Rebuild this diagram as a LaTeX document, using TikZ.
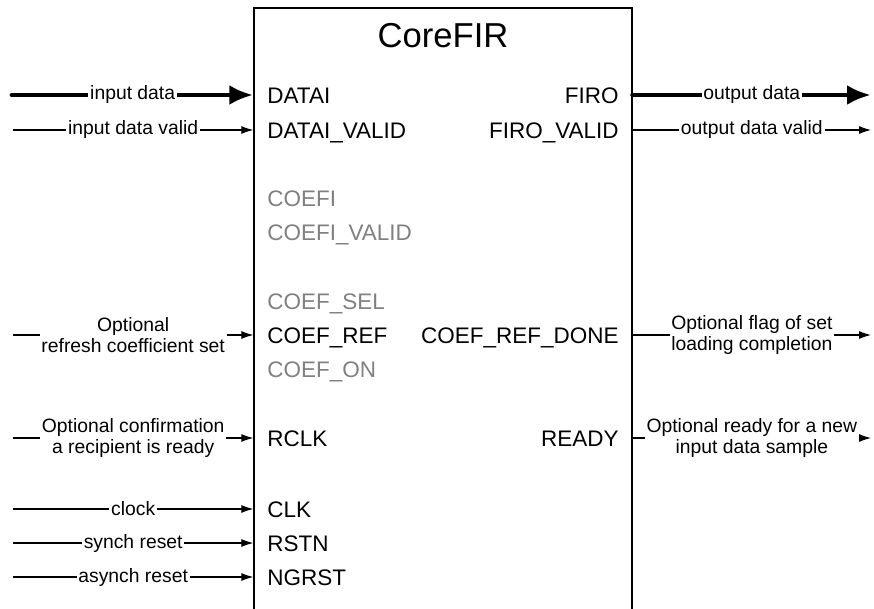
\documentclass[tikz,border=0pt]{standalone}
\usepackage{fontspec}
\setmainfont{Liberation Sans}
\usetikzlibrary{arrows.meta,positioning,calc}
\definecolor{portgray}{RGB}{128,128,128}

\begin{document}
\begin{tikzpicture}[x=0.02cm,y=-0.02cm,
  every node/.style={font=\fontsize{11}{11.6}\selectfont},
  port/.style={font=\fontsize{12.8}{15}\selectfont,text height=9.2pt,text depth=0pt,inner sep=0pt},
  lbl/.style={fill=white,inner sep=1pt,align=center},
  sig/.style={-{Latex[length=0.24cm,width=0.16cm]},line width=0.6pt},
  bus/.style={-{Latex[length=0.48cm,width=0.4cm]},line width=2.8pt,line cap=round}]
  \useasboundingbox (0,0) rectangle (874,608);
  \clip (0,0) rectangle (874,608);

  \node[draw,line width=0.8pt,minimum width=7.56cm,minimum height=12.48cm,inner sep=0pt] (core) at (443,320) {};
  \node[font=\fontsize{19.7}{24}\selectfont] (title) at (443,36) {CoreFIR};

  % ports, left side
  \foreach \n/\t/\y in {datai/DATAI/95,dataivalid/DATAI\_VALID/130,coefref/COEF\_REF/335,
      rclk/RCLK/438,clk/CLK/509,rstn/RSTN/543,ngrst/NGRST/577}{
    \node[port,anchor=west] (\n) at (267,\y) {\t};
  }
  \foreach \n/\t/\y in {coefi/COEFI/198,coefivalid/COEFI\_VALID/232,coefsel/COEF\_SEL/301,coefon/COEF\_ON/369}{
    \node[port,anchor=west,text=portgray] (\n) at (267,\y) {\t};
  }
  % ports, right side
  \foreach \n/\t/\y in {firo/FIRO/95,firovalid/FIRO\_VALID/130,refdone/COEF\_REF\_DONE/335,ready/READY/438}{
    \node[port,anchor=east] (\n) at (619,\y) {\t};
  }

  % inputs
  \coordinate (datai-src) at (12,95);
  \coordinate (dataivalid-src) at (13,130);
  \coordinate (coefref-src) at (13,335);
  \coordinate (rclk-src) at (13,438);
  \coordinate (clk-src) at (13,509);
  \coordinate (rstn-src) at (13,543);
  \coordinate (ngrst-src) at (13,577);

  \draw[bus] (datai-src) -- node[lbl]{input data} (core.west |- datai);
  \draw[sig] (dataivalid-src) -- node[lbl]{input data valid} (core.west |- dataivalid);
  \draw[sig] (coefref-src) -- node[lbl]{Optional\\refresh coefficient set} (core.west |- coefref);
  \draw[sig] (rclk-src) -- node[lbl]{Optional confirmation\\a recipient is ready} (core.west |- rclk);
  \foreach \a/\t in {clk/clock,rstn/synch reset,ngrst/asynch reset}{
    \draw[sig] (\a-src) -- node[lbl]{\t} (core.west |- \a);
  }

  % outputs
  \coordinate (firo-dst) at (871,95);
  \coordinate (firovalid-dst) at (871,130);
  \coordinate (refdone-dst) at (871,335);
  \coordinate (ready-dst) at (871,438);

  \draw[bus] (core.east |- firo) -- node[lbl]{output data} (firo-dst);
  \draw[sig] (core.east |- firovalid) -- node[lbl]{output data valid} (firovalid-dst);
  \draw[sig] (core.east |- refdone) -- node[lbl]{Optional flag of set\\loading completion} (refdone-dst);
  \draw[sig] (core.east |- ready) -- node[lbl]{Optional ready for a new\\input data sample} (ready-dst);
\end{tikzpicture}
\end{document}
